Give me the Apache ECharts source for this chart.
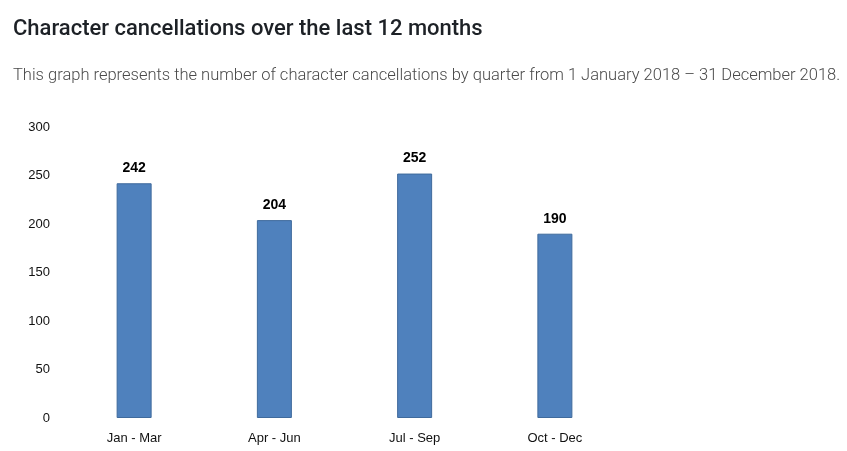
<!DOCTYPE html>
<html>
<head>
<meta charset="utf-8">
<script src="https://cdn.jsdelivr.net/npm/echarts@6/dist/echarts.min.js"></script>
<style>
	html, body { margin: 0; padding: 0; background: #fff; }
	#chart { width: 847px; height: 451px; }
</style>
</head>
<body>
<div id="chart"></div>
<script>
var quarters = ['Jan - Mar', 'Apr - Jun', 'Jul - Sep', 'Oct - Dec'];
var cancellations = [242, 204, 252, 190];
var yTicks = [0, 50, 100, 150, 200, 250, 300];

var myChart = echarts.init(document.getElementById('chart'));

var option = {
	animation: false,
	backgroundColor: '#ffffff',
	title: [{
		text: 'Character cancellations over the last 12 months',
		left: 8,
		top: 13,
		textStyle: {
			fontFamily: 'Roboto',
			fontSize: 22,
			fontWeight: 500,
			color: '#1d2126'
		}
	}, {
		text: 'This graph represents the number of character cancellations by quarter from 1 January 2018 \u2013 31 December 2018.',
		left: 8,
		top: 62,
		textStyle: {
			fontFamily: 'Roboto',
			fontSize: 16.5,
			fontWeight: 300,
			color: '#4a4a4a'
		}
	}],
	grid: {
		left: 64,
		right: 222,
		top: 127,
		bottom: 33
	},
	xAxis: {
		type: 'category',
		data: quarters,
		axisLine: { show: false },
		axisTick: { show: false },
		axisLabel: {
			fontFamily: 'Liberation Sans',
			fontSize: 13,
			color: '#111',
			margin: 14
		}
	},
	yAxis: {
		type: 'value',
		min: yTicks[0],
		max: yTicks[yTicks.length - 1],
		interval: 50,
		splitLine: { show: false },
		axisLine: { show: false },
		axisTick: { show: false },
		axisLabel: {
			fontFamily: 'Liberation Sans',
			fontSize: 13,
			color: '#111',
			margin: 14
		}
	},
	series: [{
		type: 'bar',
		data: cancellations,
		barWidth: 35,
		itemStyle: {
			color: '#4f81bd',
			borderColor: '#3f6a9c',
			borderWidth: 1
		},
		label: {
			show: true,
			position: 'top',
			distance: 8,
			fontFamily: 'Liberation Sans',
			fontWeight: 'bold',
			fontSize: 14,
			color: '#000'
		}
	}]
};

myChart.setOption(option);
</script>
</body>
</html>
